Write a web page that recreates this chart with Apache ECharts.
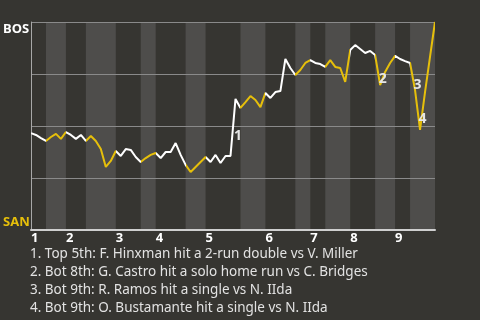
<!DOCTYPE html>
<html>
<head>
<meta charset="utf-8">
<script src="https://cdn.jsdelivr.net/npm/echarts@6/dist/echarts.min.js"></script>
<style>html,body{margin:0;padding:0;background:#363531;}#c{width:480px;height:320px;}</style>
</head>
<body>
<div id="c"></div>
<script>
// Win probability (0 = SAN, 1 = BOS), one value per play
const winProb = [0.466,0.457,0.442,0.428,0.447,0.462,0.438,0.471,0.457,0.438,
  0.457,0.428,0.452,0.428,0.389,0.303,0.332,0.380,0.356,0.389,
  0.385,0.351,0.327,0.346,0.361,0.370,0.346,0.375,0.375,0.418,
  0.361,0.313,0.279,0.303,0.327,0.351,0.327,0.361,0.322,0.356,
  0.356,0.630,0.587,0.615,0.644,0.625,0.591,0.659,0.635,0.663,
  0.668,0.822,0.779,0.745,0.769,0.803,0.817,0.803,0.798,0.784,
  0.817,0.784,0.779,0.712,0.865,0.889,0.870,0.851,0.861,0.841,
  0.697,0.760,0.803,0.837,0.822,0.812,0.803,0.673,0.481,0.663,
  0.832,1.000];
// play index where each half inning starts (top 1, bot 1, top 2, ...), last = end
const halfStarts = [0,3,7,11,17,22,25,31,35,42,47,53,56,59,64,69,73,76,81];
const inningLabels = ['1','2','3','4','5','6','7','8','9'];
// key plays: annotation number and play index ending the segment
const keyPlays = [
  {num:'1', play:41},
  {num:'2', play:70},
  {num:'3', play:77},
  {num:'4', play:78}
];
const captions = [
  '1. Top 5th: F. Hinxman hit a 2-run double vs V. Miller',
  '2. Bot 8th: G. Castro hit a solo home run vs C. Bridges',
  '3. Bot 9th: R. Ramos hit a single vs N. IIda',
  '4. Bot 9th: O. Bustamante hit a single vs N. IIda'
];
const teamTop = 'BOS', teamBottom = 'SAN';

const WHITE = '#ffffff', YELLOW = '#e6bf0a';
const lineData = winProb.map((v,i)=>[i,v]);
const topStarts = halfStarts.filter((_,k)=>k%2===0 && k<halfStarts.length-1);
const pieces = [];
const bands = [];
for (let k=0;k<halfStarts.length-1;k++){
  const p = {gte:halfStarts[k], color: k%2===0?WHITE:YELLOW};
  if (k===halfStarts.length-2) p.lte = halfStarts[k+1]; else p.lt = halfStarts[k+1];
  pieces.push(p);
  if (k%2===1) bands.push([{xAxis:halfStarts[k]},{xAxis:halfStarts[k+1]}]);
}
const marks = keyPlays.map(kp=>({
  name: kp.num,
  coord: [kp.play-0.5, (winProb[kp.play-1]+winProb[kp.play])/2]
}));

const chart = echarts.init(document.getElementById('c'), null, {renderer:'canvas'});
chart.setOption({
  backgroundColor:'#363531',
  animation:false,
  textStyle:{fontFamily:'Noto Sans'},
  title:{
    left:30, top:245, padding:0,
    text: captions.join('\n'),
    textStyle:{color:'#e2e2e2', fontSize:13.5, fontWeight:'normal', lineHeight:18, fontFamily:'Noto Sans'}
  },
  grid:{left:30, right:45, top:22, bottom:90},
  visualMap:{show:false, type:'piecewise', dimension:0, seriesIndex:1, pieces:pieces},
  xAxis:{
    type:'value', min:0, max:halfStarts[halfStarts.length-1],
    splitLine:{show:false},
    axisTick:{show:false},
    axisLine:{show:true, lineStyle:{color:'#cfcfcf', width:2}},
    axisLabel:{
      customValues: topStarts,
      formatter: v => inningLabels[topStarts.indexOf(v)],
      align:'left', margin:2, color:'#ffffff', fontSize:13, fontWeight:'bold', fontFamily:'Noto Sans'
    },
    z:2
  },
  yAxis:{
    type:'value', min:0, max:1, interval:0.25,
    axisLine:{show:true, lineStyle:{color:'#a8a8a8', width:1}},
    axisTick:{show:false},
    splitLine:{show:true, lineStyle:{color:'#8a8a8a', width:1}},
    axisLabel:{
      customValues:[0,1],
      align:'left', margin:28,
      formatter: v => v===1 ? '{b|'+teamTop+'}' : '{s|'+teamBottom+'}',
      rich:{
        b:{color:'#ffffff', fontSize:13, fontWeight:'bold', fontFamily:'Noto Sans', padding:[14,0,0,0]},
        s:{color:YELLOW, fontSize:13, fontWeight:'bold', fontFamily:'Noto Sans', padding:[0,0,15,0]}
      }
    },
    z:2
  },
  series:[
    {
      type:'line', data:[], z:1, silent:true,
      markArea:{silent:true, itemStyle:{color:'#4e4d4b'}, data:bands}
    },
    {
      type:'line', data:lineData, z:3, symbol:'none', silent:true,
      lineStyle:{width:2},
      markPoint:{
        symbol:'circle', symbolSize:0, silent:true,
        label:{show:true, formatter:'{b}', color:'#e6e6e6', fontSize:14, fontWeight:'bold', fontFamily:'Noto Sans', offset:[5,9]},
        data:marks
      }
    }
  ]
});
</script>
</body>
</html>
